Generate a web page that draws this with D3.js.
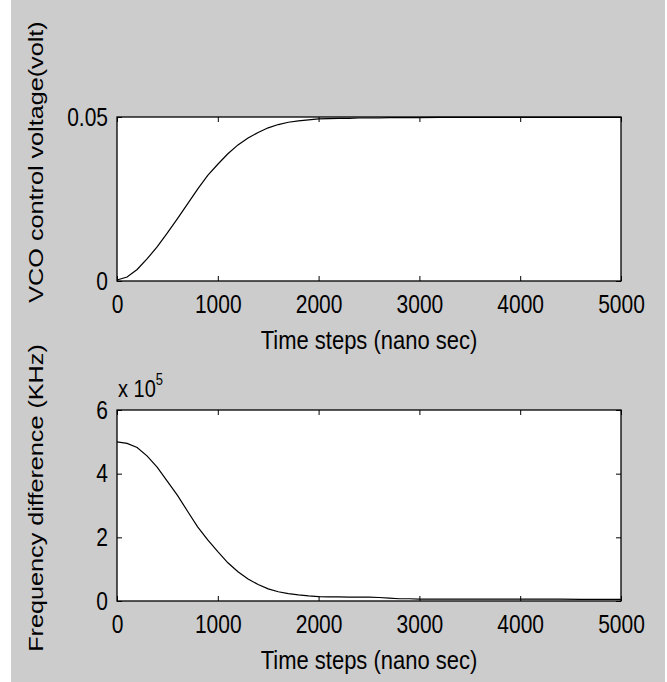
<!DOCTYPE html>
<html><head><meta charset="utf-8">
<script src="https://cdn.jsdelivr.net/npm/d3@7"></script>
<style>body{margin:0;background:#fff}svg{display:block}</style>
</head><body>
<svg id="c" width="667" height="682"></svg>
<script>
// ---- data ----
const timeSteps = [0,100,200,300,400,500,600,700,800,900,1000,1100,1200,1300,1400,1500,1600,1700,1800,1900,2000,2100,2200,2300,2400,2500,2600,2700,2800,2900,3000,3200,3400,3600,3800,4000,4200,4400,4600,4800,5000];
const vcoVoltage = [0.0003,0.0012,0.0035,0.0068,0.0105,0.0147,0.0190,0.0235,0.0280,0.0322,0.0356,0.0388,0.0415,0.0436,0.0453,0.0467,0.0477,0.0484,0.0488,0.0491,0.0494,0.0495,0.0496,0.0496,0.0497,0.0497,0.0497,0.0498,0.0498,0.0498,0.0498,0.0499,0.0499,0.0499,0.0499,0.0499,0.0499,0.0499,0.0499,0.0499,0.0499];
const freqDiff = [5.00,4.95,4.82,4.55,4.20,3.76,3.32,2.82,2.33,1.92,1.55,1.20,0.92,0.69,0.52,0.38,0.29,0.23,0.19,0.16,0.14,0.13,0.13,0.12,0.12,0.12,0.11,0.09,0.07,0.07,0.06,0.06,0.06,0.06,0.06,0.06,0.06,0.06,0.05,0.05,0.05];
const xTicks = [0,1000,2000,3000,4000,5000];
const vcoTicks = [0,0.05];
const vcoTickLabels = ["0","0.05"];
const freqTicks = [0,2,4,6];
const xLabel = "Time steps (nano sec)";
const vcoLabel = "VCO control voltage(volt)";
const freqLabel = "Frequency difference (KHz)";

const FONT = "'Liberation Sans', Arial, Helvetica, sans-serif";
const SY = 1.2;   // vertical stretch of the original text
const svg = d3.select("#c");
svg.append("rect").attr("x",11).attr("y",0).attr("width",654).attr("height",682).attr("fill","#cccccc");

function panel(top, bottom, yDomain, yTicks, yFmt, yData, yLab, yLabCenter) {
  const L = 117, R = 621;
  const x = d3.scaleLinear().domain([0,5000]).range([L,R]);
  const y = d3.scaleLinear().domain(yDomain).range([bottom, top]);
  const g = svg.append("g");
  g.append("rect").attr("x",L).attr("y",top).attr("width",R-L).attr("height",bottom-top).attr("fill","#fff");

  const line = d3.line().x((d,i)=>x(timeSteps[i])).y(d=>y(d));
  g.append("path").datum(yData).attr("d",line).attr("fill","none").attr("stroke","#000").attr("stroke-width",1.2);

  const styleAxis = (sel) => {
    sel.select(".domain").remove();
    sel.selectAll(".tick line").attr("stroke","#000");
    sel.selectAll("text").attr("font-family",FONT).attr("font-size",21).attr("fill","#000");
  };
  const xb = g.append("g").attr("transform",`translate(0,${bottom})`)
    .call(d3.axisBottom(x).tickValues(xTicks).tickSize(-5).tickPadding(0).tickFormat(d3.format("d")));
  styleAxis(xb);
  xb.selectAll("text").attr("dy",null).attr("y",0).attr("transform",`translate(0,32) scale(1,${SY})`);
  const xt = g.append("g").attr("transform",`translate(0,${top})`)
    .call(d3.axisTop(x).tickValues(xTicks).tickSize(-5).tickFormat(""));
  styleAxis(xt);
  const yl = g.append("g").attr("transform",`translate(${L},0)`)
    .call(d3.axisLeft(y).tickValues(yTicks).tickSize(-5).tickPadding(8).tickFormat(yFmt));
  styleAxis(yl);
  yl.selectAll("text").attr("dy",null).attr("x",0).attr("y",0).attr("transform",`translate(-9,8) scale(1,${SY})`);
  const yr = g.append("g").attr("transform",`translate(${R},0)`)
    .call(d3.axisRight(y).tickValues(yTicks).tickSize(-5).tickFormat(""));
  styleAxis(yr);

  g.append("rect").attr("x",L).attr("y",top).attr("width",R-L).attr("height",bottom-top)
    .attr("fill","none").attr("stroke","#000").attr("stroke-width",1.3);

  // x label
  g.append("text").attr("transform",`translate(${(L+R)/2},${bottom+68}) scale(1,${SY})`)
    .attr("text-anchor","middle").attr("font-family",FONT).attr("font-size",22).text(xLabel);
  // y label
  g.append("text").attr("transform",`translate(43,${yLabCenter}) rotate(-90) scale(${SY},1)`)
    .attr("text-anchor","middle").attr("font-family",FONT).attr("font-size",21).text(yLab);
  return {x,y,g};
}

panel(117, 281, [0,0.05], vcoTicks, (d)=>vcoTickLabels[vcoTicks.indexOf(d)], vcoVoltage, vcoLabel, 162);
panel(410, 601, [0,6], freqTicks, d3.format("d"), freqDiff, freqLabel, 498);

// exponent "x 10^5"
const ex = svg.append("text").attr("transform",`translate(118,397) scale(1,${SY})`)
  .attr("font-family",FONT).attr("font-size",20);
ex.append("tspan").text("x 10");
ex.append("tspan").attr("font-size",13).attr("dy",-10).text("5");
</script>
</body></html>
